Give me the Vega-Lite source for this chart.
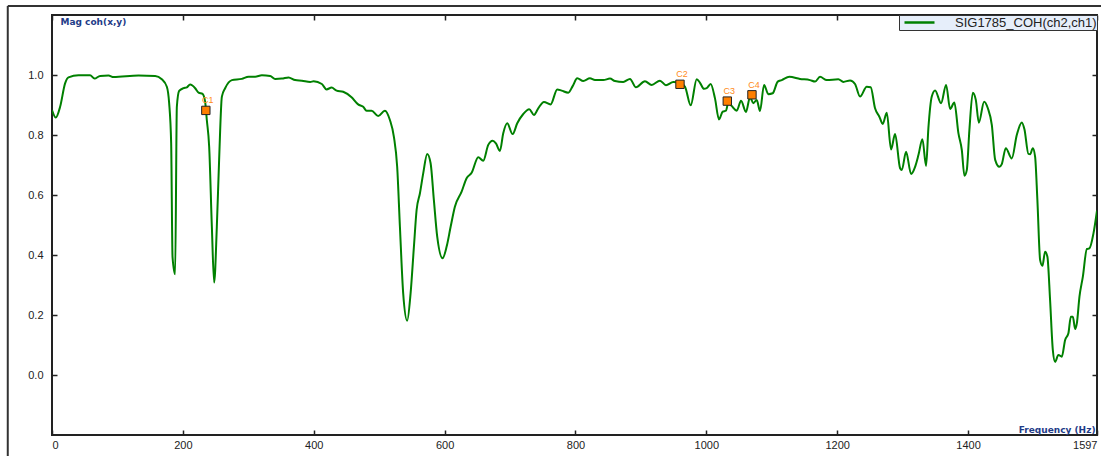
{
  "$schema": "https://vega.github.io/schema/vega-lite/v6.json",
  "width": 1045,
  "height": 420,
  "autosize": "none",
  "padding": {"left": 52, "top": 15, "right": 4, "bottom": 21},
  "background": "white",
  "config": {
    "view": {"stroke": "#222", "strokeWidth": 2},
    "font": "Liberation Sans",
    "axis": {"grid": false, "domain": false, "labelFont": "Liberation Sans", "labelFontSize": 11, "labelColor": "#222", "tickColor": "#222", "tickWidth": 1.5}
  },
  "datasets": {
    "coh": [
      {"f":0,"v":0.883},{"f":5.8,"v":0.858},{"f":12.4,"v":0.894},{"f":20,"v":0.972},{"f":25.2,"v":0.992},{"f":40.5,"v":0.999},{"f":58.2,"v":0.999},{"f":65,"v":0.988},{"f":73.5,"v":0.997},{"f":86.4,"v":0.998},{"f":94,"v":0.993},{"f":132.2,"v":0.998},{"f":157.6,"v":0.997},{"f":167.8,"v":0.986},{"f":175.5,"v":0.961},{"f":179,"v":0.907},{"f":182.1,"v":0.773},{"f":184.2,"v":0.394},{"f":188.2,"v":0.336},{"f":190.8,"v":0.894},{"f":194.3,"v":0.947},{"f":201,"v":0.956},{"f":206.1,"v":0.959},{"f":211.1,"v":0.968},{"f":218.8,"v":0.956},{"f":224,"v":0.941},{"f":230.1,"v":0.937},{"f":234,"v":0.911},{"f":236.6,"v":0.85},{"f":240.2,"v":0.761},{"f":244.3,"v":0.494},{"f":247.8,"v":0.308},{"f":251.9,"v":0.494},{"f":255.4,"v":0.717},{"f":259.6,"v":0.928},{"f":264.6,"v":0.956},{"f":274.9,"v":0.983},{"f":290.1,"v":0.987},{"f":300.4,"v":0.994},{"f":310.5,"v":0.994},{"f":320.7,"v":0.999},{"f":333.4,"v":0.997},{"f":341.1,"v":0.987},{"f":351.3,"v":0.988},{"f":361.5,"v":0.992},{"f":371.6,"v":0.983},{"f":381.9,"v":0.981},{"f":394.6,"v":0.977},{"f":399.8,"v":0.979},{"f":412.4,"v":0.97},{"f":419.6,"v":0.952},{"f":427.3,"v":0.958},{"f":434.9,"v":0.948},{"f":445,"v":0.944},{"f":457.8,"v":0.926},{"f":467.9,"v":0.902},{"f":475.6,"v":0.894},{"f":480.8,"v":0.881},{"f":488.4,"v":0.881},{"f":498.5,"v":0.863},{"f":508.7,"v":0.881},{"f":516.4,"v":0.85},{"f":522.5,"v":0.794},{"f":527.5,"v":0.694},{"f":531.7,"v":0.494},{"f":536.7,"v":0.272},{"f":542.8,"v":0.181},{"f":548,"v":0.272},{"f":553.1,"v":0.428},{"f":557.2,"v":0.55},{"f":562.3,"v":0.606},{"f":567.3,"v":0.672},{"f":573.4,"v":0.737},{"f":578.6,"v":0.706},{"f":583.6,"v":0.583},{"f":588.7,"v":0.461},{"f":596.9,"v":0.389},{"f":603.1,"v":0.428},{"f":609.2,"v":0.494},{"f":615.7,"v":0.561},{"f":626,"v":0.611},{"f":633.6,"v":0.656},{"f":641.3,"v":0.674},{"f":651.4,"v":0.726},{"f":659,"v":0.714},{"f":666.7,"v":0.767},{"f":673.4,"v":0.781},{"f":678.4,"v":0.772},{"f":684.5,"v":0.747},{"f":689.6,"v":0.806},{"f":695.7,"v":0.839},{"f":703.9,"v":0.803},{"f":711,"v":0.839},{"f":720.2,"v":0.87},{"f":729.3,"v":0.886},{"f":736.5,"v":0.867},{"f":743.1,"v":0.889},{"f":751.8,"v":0.91},{"f":762,"v":0.902},{"f":772.1,"v":0.952},{"f":778.8,"v":0.948},{"f":789,"v":0.941},{"f":795.7,"v":0.963},{"f":802.7,"v":0.989},{"f":811.9,"v":0.98},{"f":822.1,"v":0.989},{"f":829.8,"v":0.983},{"f":842.5,"v":0.983},{"f":852.7,"v":0.988},{"f":860.3,"v":0.98},{"f":873,"v":0.977},{"f":883.3,"v":0.987},{"f":892.4,"v":0.959},{"f":906.2,"v":0.979},{"f":916.4,"v":0.967},{"f":929.1,"v":0.981},{"f":938.3,"v":0.966},{"f":949.5,"v":0.977},{"f":959.7,"v":0.974},{"f":967.4,"v":0.961},{"f":976.1,"v":0.899},{"f":985.3,"v":0.986},{"f":990.3,"v":0.974},{"f":996.4,"v":0.954},{"f":1000.5,"v":0.956},{"f":1006.6,"v":0.97},{"f":1013.2,"v":0.922},{"f":1019.3,"v":0.852},{"f":1025,"v":0.878},{"f":1030,"v":0.881},{"f":1033.6,"v":0.908},{"f":1038.7,"v":0.897},{"f":1046.4,"v":0.881},{"f":1053,"v":0.914},{"f":1060.6,"v":0.877},{"f":1066.7,"v":0.926},{"f":1071.8,"v":0.906},{"f":1077,"v":0.917},{"f":1082,"v":0.88},{"f":1088.2,"v":0.967},{"f":1094.7,"v":0.936},{"f":1101.4,"v":0.939},{"f":1109.1,"v":0.978},{"f":1115.2,"v":0.983},{"f":1126.8,"v":0.994},{"f":1143.2,"v":0.987},{"f":1158.4,"v":0.983},{"f":1166.1,"v":0.978},{"f":1173.7,"v":0.994},{"f":1184,"v":0.983},{"f":1201.7,"v":0.986},{"f":1209.4,"v":0.977},{"f":1219.6,"v":0.982},{"f":1227.2,"v":0.97},{"f":1234.9,"v":0.928},{"f":1245.1,"v":0.961},{"f":1251.2,"v":0.959},{"f":1257.8,"v":0.889},{"f":1264.4,"v":0.861},{"f":1269.6,"v":0.837},{"f":1275.7,"v":0.874},{"f":1282.3,"v":0.752},{"f":1288.4,"v":0.803},{"f":1296.1,"v":0.689},{"f":1298.7,"v":0.683},{"f":1305.2,"v":0.744},{"f":1312.9,"v":0.67},{"f":1319,"v":0.694},{"f":1324.1,"v":0.733},{"f":1330.2,"v":0.786},{"f":1335.8,"v":0.697},{"f":1339.3,"v":0.822},{"f":1344.5,"v":0.928},{"f":1349.6,"v":0.948},{"f":1358.7,"v":0.906},{"f":1366.4,"v":0.967},{"f":1372.5,"v":0.887},{"f":1379,"v":0.908},{"f":1385.2,"v":0.806},{"f":1390.4,"v":0.75},{"f":1394.4,"v":0.664},{"f":1398,"v":0.683},{"f":1402,"v":0.817},{"f":1407.2,"v":0.941},{"f":1411.8,"v":0.917},{"f":1416.4,"v":0.841},{"f":1424.5,"v":0.911},{"f":1430.2,"v":0.889},{"f":1436.3,"v":0.833},{"f":1441.4,"v":0.717},{"f":1447.8,"v":0.694},{"f":1451.5,"v":0.703},{"f":1457.6,"v":0.756},{"f":1466.8,"v":0.722},{"f":1474.4,"v":0.8},{"f":1482.1,"v":0.842},{"f":1486.1,"v":0.819},{"f":1492.2,"v":0.737},{"f":1494.8,"v":0.736},{"f":1498.9,"v":0.756},{"f":1502.4,"v":0.728},{"f":1505.9,"v":0.583},{"f":1510.1,"v":0.383},{"f":1513.6,"v":0.364},{"f":1517.7,"v":0.411},{"f":1521.2,"v":0.394},{"f":1525.3,"v":0.25},{"f":1529.5,"v":0.083},{"f":1533,"v":0.044},{"f":1538,"v":0.067},{"f":1543.2,"v":0.061},{"f":1548.3,"v":0.117},{"f":1553.3,"v":0.139},{"f":1557,"v":0.194},{"f":1560.1,"v":0.194},{"f":1563.6,"v":0.153},{"f":1566.2,"v":0.172},{"f":1570.2,"v":0.261},{"f":1575.4,"v":0.328},{"f":1581.5,"v":0.42},{"f":1585.4,"v":0.422},{"f":1591.6,"v":0.472},{"f":1597,"v":0.548}
    ],
    "cursors": [
      {"f":235.1,"v":0.882,"label":"C1"},
      {"f":959.7,"v":0.969,"label":"C2"},
      {"f":1032,"v":0.913,"label":"C3"},
      {"f":1069.7,"v":0.934,"label":"C4"}
    ]
  },
  "layer": [
    {
      "data": {"name": "coh"},
      "mark": {"type": "line", "interpolate": "monotone", "strokeWidth": 2, "clip": true},
      "encoding": {
        "x": {"field": "f", "type": "quantitative",
          "scale": {"domain": [0, 1597], "nice": false, "zero": false},
          "axis": {"orient": "bottom", "values": [0,200,400,600,800,1000,1200,1400,1597], "format": "d", "labelFlush": true, "tickSize": -5, "labelPadding": 9,
            "title": "Frequency (Hz)", "titleFont": "DejaVu Sans", "titleFontSize": 9, "titleFontWeight": "bold", "titleColor": "#1f3c88",
            "titleAnchor": null, "titleAlign": "right", "titleBaseline": "middle", "titleX": 1043, "titleY": -6}},
        "y": {"field": "v", "type": "quantitative",
          "scale": {"domain": [-0.2, 1.2], "nice": false, "zero": false},
          "axis": {"orient": "left", "values": [0,0.2,0.4,0.6,0.8,1.0], "format": ".1f", "tickSize": -5, "labelPadding": 14,
            "title": "Mag coh(x,y)", "titleFont": "DejaVu Sans", "titleFontSize": 9, "titleFontWeight": "bold", "titleColor": "#1f3c88",
            "titleAngle": 0, "titleAnchor": null, "titleAlign": "left", "titleBaseline": "middle", "titleX": 8, "titleY": 6}},
        "color": {"datum": "SIG1785_COH(ch2,ch1)", "type": "nominal",
          "scale": {"range": ["#008000"]},
          "legend": {"orient": "top-right", "offset": 0, "title": null, "padding": 0, "fillColor": "#e6eefa", "strokeColor": "#333",
            "symbolType": "M-2.5,0H2.5", "symbolSize": 144, "symbolOffset": 13, "symbolStrokeWidth": 2.5, "symbolStrokeColor": "#008000",
            "labelFontSize": 13, "labelColor": "#222", "labelFont": "Liberation Sans", "labelOffset": 28}}
      }
    },
    {
      "data": {"name": "cursors"},
      "encoding": {
        "x": {"field": "f", "type": "quantitative",
          "scale": {"domain": [0, 1597], "nice": false, "zero": false},
          "axis": {"orient": "top", "values": [0,200,400,600,800,1000,1200,1400,1597], "labels": false, "tickSize": -5, "title": null}},
        "y": {"field": "v", "type": "quantitative",
          "scale": {"domain": [-0.2, 1.2], "nice": false, "zero": false},
          "axis": {"orient": "right", "values": [0,0.2,0.4,0.6,0.8,1.0], "labels": false, "tickSize": -5, "title": null}}
      },
      "layer": [
        {"mark": {"type": "square", "size": 70, "filled": true, "fill": "#ff7f00", "stroke": "#222", "strokeWidth": 1, "opacity": 1}},
        {"mark": {"type": "text", "dx": 2, "dy": -10, "fontSize": 9, "color": "#ff8c1a", "font": "Liberation Sans"},
         "encoding": {"text": {"field": "label"}}}
      ]
    },
    {
      "data": {"values": [{}]},
      "layer": [
        {"mark": {"type": "rule", "stroke": "#333", "strokeWidth": 2, "clip": false},
         "encoding": {"x": {"datum": -67.6, "type": "quantitative", "scale": {"domain": [0, 1597], "nice": false, "zero": false}, "axis": null},
                      "y": {"datum": -0.6, "type": "quantitative", "scale": {"domain": [-0.2, 1.2], "nice": false, "zero": false}, "axis": null},
                      "y2": {"datum": 1.23}}},
        {"mark": {"type": "rule", "stroke": "#333", "strokeWidth": 2, "clip": false},
         "encoding": {"x": {"datum": -67.6, "type": "quantitative"},
                      "x2": {"datum": 1700},
                      "y": {"datum": 1.23, "type": "quantitative"}}}
      ]
    }
  ],
  "resolve": {"scale": {"x": "independent", "y": "independent"}}
}
